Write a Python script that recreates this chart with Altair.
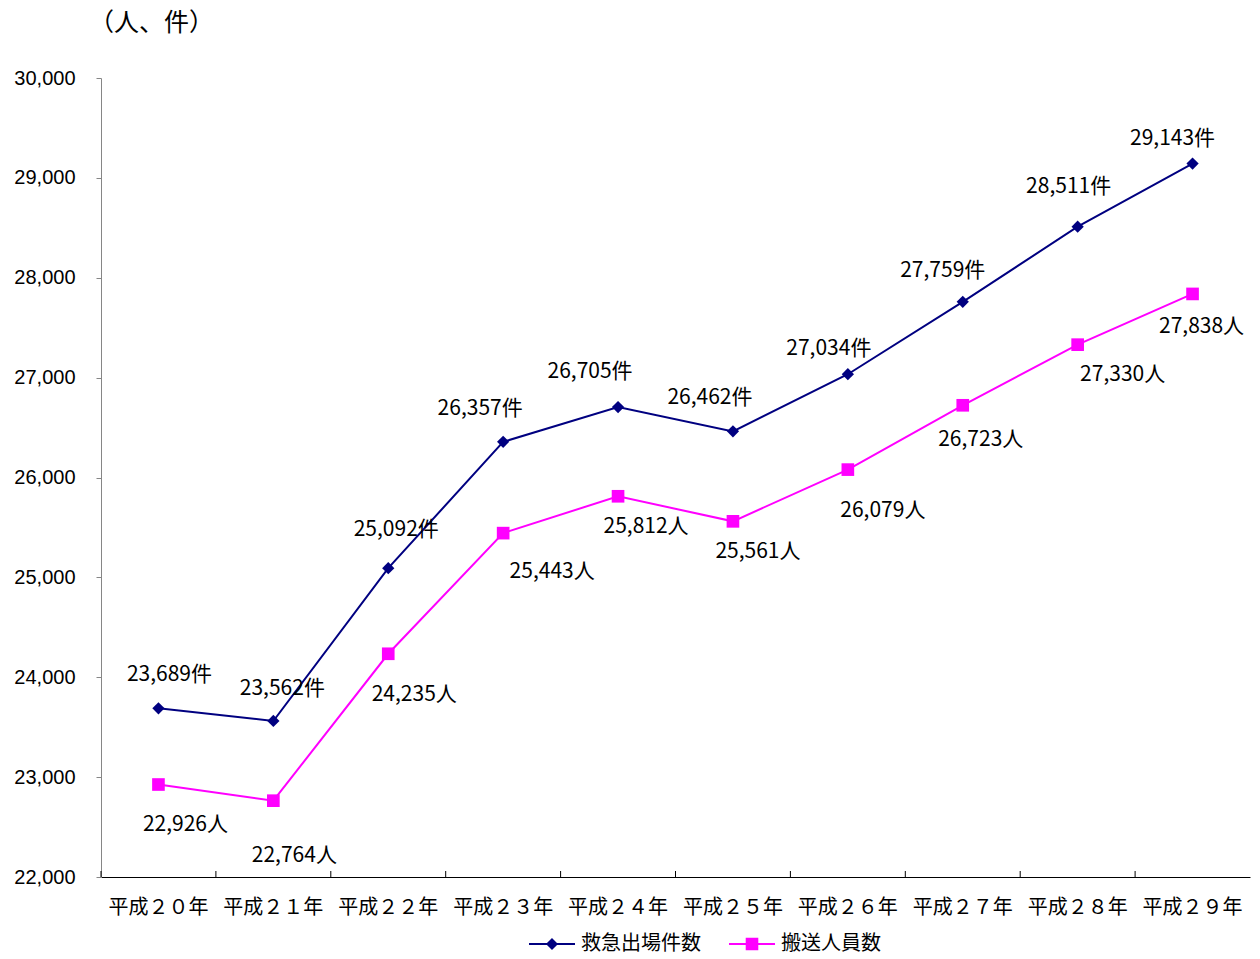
import altair as alt
import pandas as pd

# ---- data ----
years = ["平成２０年", "平成２１年", "平成２２年", "平成２３年", "平成２４年",
         "平成２５年", "平成２６年", "平成２７年", "平成２８年", "平成２９年"]
dispatch = [23689, 23562, 25092, 26357, 26705, 26462, 27034, 27759, 28511, 29143]
transported = [22926, 22764, 24235, 25443, 25812, 25561, 26079, 26723, 27330, 27838]
dispatch_name = "救急出場件数"
transported_name = "搬送人員数"
unit_title = "（人、件）"

# ---- label nudges (pixels, relative to each point) ----
dispatch_label_dx = [11, 9, 8, -23, -28, -23, -19, -20, -9, -20]
dispatch_label_dy = [-33, -32, -38, -33, -35, -33, -25, -31, -40, -25]
transported_label_dx = [27, 21, 26, 49, 28, 25, 35, 18, 45, 9]
transported_label_dy = [40, 55, 41, 39, 31, 31, 41, 35, 30, 33]

W, H = 1149, 799
YMIN, YMAX = 22000, 30000
BAND = W / len(years)
PX = (YMAX - YMIN) / H

NAVY = "#000080"
MAGENTA = "#FF00FF"
JP = "Noto Sans CJK JP"

d1 = pd.DataFrame({"year": years, "value": dispatch, "series": dispatch_name,
                   "label": [f"{v:,}件" for v in dispatch],
                   "lx": [dx + BAND / 2 for dx in dispatch_label_dx],
                   "ly": [v - dy * PX for v, dy in zip(dispatch, dispatch_label_dy)],
                   "zero": 0})
d2 = pd.DataFrame({"year": years, "value": transported, "series": transported_name,
                   "label": [f"{v:,}人" for v in transported],
                   "lx": [dx + BAND / 2 for dx in transported_label_dx],
                   "ly": [v - dy * PX for v, dy in zip(transported, transported_label_dy)]})

xscale = alt.Scale(type="band", domain=years, paddingInner=0, paddingOuter=0)
x = alt.X("year:N", scale=xscale, sort=years,
          axis=alt.Axis(title=None, ticks=False, labelAngle=0, labelFont=JP,
                        labelFontSize=20, labelColor="black", labelPadding=20,
                        bandPosition=0.5, domainColor="black", domainWidth=1))
yscale = alt.Scale(domain=[YMIN, YMAX], nice=False, zero=False)
y = alt.Y("value:Q", scale=yscale,
          axis=alt.Axis(title=None, values=list(range(YMIN, YMAX + 1, 1000)), format=",d",
                        grid=False, tickSize=5, tickColor="#868686", domainColor="#868686",
                        labelFont="Liberation Sans", labelFontSize=20, labelColor="black",
                        labelPadding=21))

diamond_sym = "M-1,0L1,0M0,-0.2L0.2,0L0,0.2L-0.2,0Z"
square_sym = "M-1,0L1,0M-0.23,-0.23L0.23,-0.23L0.23,0.23L-0.23,0.23Z"


def legend(px, sym, col):
    return alt.Legend(title=None, orient="none", legendX=px, legendY=842,
                      symbolType=sym, symbolSize=2116, symbolStrokeWidth=2,
                      symbolFillColor=col, symbolStrokeColor=col,
                      labelFont=JP, labelFontSize=20, labelColor="black",
                      labelOffset=5)


line1 = alt.Chart(d1).mark_line(color=NAVY, strokeWidth=2).encode(x=x, y=y)
pts1 = alt.Chart(d1).mark_point(shape="diamond", filled=True, size=150, opacity=1).encode(
    x=x, y=y,
    color=alt.Color("series:N", scale=alt.Scale(domain=[dispatch_name], range=[NAVY]),
                    legend=legend(427, diamond_sym, NAVY)))
line2 = alt.Chart(d2).mark_line(color=MAGENTA, strokeWidth=2).encode(x=x, y=y)
pts2 = alt.Chart(d2).mark_point(shape="square", filled=True, size=160, opacity=1).encode(
    x=x, y=y,
    color=alt.Color("series:N", scale=alt.Scale(domain=[transported_name], range=[MAGENTA]),
                    legend=legend(627, square_sym, MAGENTA)))

txt_kw = dict(font=JP, fontSize=21, color="black", align="center", baseline="middle")
lab1 = alt.Chart(d1).mark_text(**txt_kw).encode(
    x=x, xOffset=alt.XOffset("lx:Q", scale=None),
    y=alt.Y("ly:Q", scale=yscale), text="label:N")
lab2 = alt.Chart(d2).mark_text(**txt_kw).encode(
    x=x, xOffset=alt.XOffset("lx:Q", scale=None),
    y=alt.Y("ly:Q", scale=yscale), text="label:N")

# inward x-axis ticks at the category boundaries (band start)
ticks = alt.Chart(d1).mark_rule(color="black", strokeWidth=1).encode(
    x=x, xOffset=alt.XOffset("zero:Q", scale=None),
    y=alt.value(H - 6), y2=alt.value(H))

unit = alt.Chart(pd.DataFrame({"t": [unit_title]})).mark_text(
    font=JP, fontSize=25, color="black", align="left", baseline="middle"
).encode(x=alt.value(-12), y=alt.value(-55), text="t:N")

chart = alt.layer(ticks, line1, line2, pts1, pts2, lab1, lab2, unit).resolve_scale(
    color="independent"
).properties(
    width=W, height=H,
    background="white",
    autosize=alt.AutoSizeParams(type="none"),
    padding={"left": 101, "top": 78, "right": 10, "bottom": 82},
).configure_view(strokeWidth=0, stroke="transparent")

chart.save("out.html", embed_options={"renderer": "svg", "actions": False})
